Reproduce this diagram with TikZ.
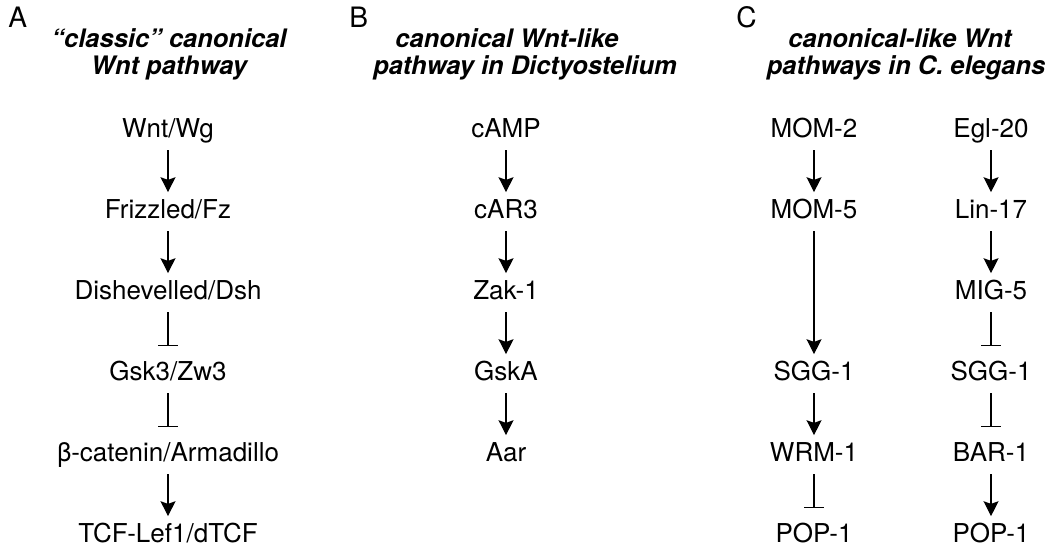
\documentclass[tikz,border=0pt]{standalone}
\usepackage{fontspec}
\setmainfont{TeX Gyre Heros}
\usepackage{tikz}
\usetikzlibrary{arrows.meta}
\tikzset{>={Stealth[length=8.5pt,width=8.5pt,inset=1.5pt]}}
\tikzset{
  gene/.style={inner sep=0pt, anchor=base, text height=10.5pt, text depth=0pt, font=\fontsize{14.8}{16}\selectfont},
  panel/.style={inner sep=0pt, anchor=base west, font=\fontsize{16}{18}\selectfont},
  head/.style={inner sep=0pt, anchor=base, font=\fontsize{14.5}{16}\selectfont\bfseries\itshape},
  act/.style={->, line width=0.7pt, shorten <=7.4pt, shorten >=4pt},
  inh/.style={-{Bar[width=11pt,line width=0.7pt]}, line width=0.7pt, shorten <=7.4pt, shorten >=8.5pt},
}

\begin{document}
\begin{tikzpicture}[x=0.02cm,y=-0.02cm]
        \useasboundingbox (0,0) rectangle (1050,552);
        % panel letters and titles
        \node[panel] (labA) at (8,27) {A};
        \node[panel] (labB) at (349,27) {B};
        \node[panel] (labC) at (736,27) {C};
        \node[head] (headA1) at (169,47) {“classic” canonical};
        \node[head] (headA2) at (169,74) {Wnt pathway};
        \node[head] (headB1) at (507,47) {canonical Wnt-like};
        \node[head] (headB2) at (525,74) {pathway in Dictyostelium};
        \node[head] (headC1) at (900,47) {canonical-like Wnt};
        \node[head] (headC2) at (906,74) {pathways in C. elegans};

        % A
        \node[gene] (wnt) at (168,137) {Wnt/Wg};
        \node[gene] (fz) at (168,218) {Frizzled/Fz};
        \node[gene] (dsh) at (168,299) {Dishevelled/Dsh};
        \node[gene] (gsk) at (168,380) {Gsk3/Zw3};
        \node[gene] (bcat) at (168,461) {β-catenin/Armadillo};
        \node[gene] (tcf) at (168,542) {TCF-Lef1/dTCF};
        \draw[act] (wnt.south) -- (fz.north);
        \draw[act] (fz.south) -- (dsh.north);
        \draw[inh] (dsh.south) -- (gsk.north);
        \draw[inh] (gsk.south) -- (bcat.north);
        \draw[act] (bcat.south) -- (tcf.north);

        % B
        \node[gene] (camp) at (506,137) {cAMP};
        \node[gene] (car) at (506,218) {cAR3};
        \node[gene] (zak) at (506,299) {Zak-1};
        \node[gene] (gska) at (506,380) {GskA};
        \node[gene] (aar) at (506,461) {Aar};
        \draw[act] (camp.south) -- (car.north);
        \draw[act] (car.south) -- (zak.north);
        \draw[act] (zak.south) -- (gska.north);
        \draw[act] (gska.south) -- (aar.north);

        % C, left
        \node[gene] (mom2) at (814,137) {MOM-2};
        \node[gene] (mom5) at (814,218) {MOM-5};
        \node[gene] (sggL) at (814,380) {SGG-1};
        \node[gene] (wrm) at (814,461) {WRM-1};
        \node[gene] (popL) at (814,542) {POP-1};
        \draw[act] (mom2.south) -- (mom5.north);
        \draw[act] (mom5.south) -- (sggL.north);
        \draw[act] (sggL.south) -- (wrm.north);
        \draw[inh] (wrm.south) -- (popL.north);

        % C, right
        \node[gene] (egl) at (991,137) {Egl-20};
        \node[gene] (lin) at (991,218) {Lin-17};
        \node[gene] (mig) at (991,299) {MIG-5};
        \node[gene] (sggR) at (991,380) {SGG-1};
        \node[gene] (bar) at (991,461) {BAR-1};
        \node[gene] (popR) at (991,542) {POP-1};
        \draw[act] (egl.south) -- (lin.north);
        \draw[act] (lin.south) -- (mig.north);
        \draw[inh] (mig.south) -- (sggR.north);
        \draw[inh] (sggR.south) -- (bar.north);
        \draw[act] (bar.south) -- (popR.north);
\end{tikzpicture}
\end{document}
